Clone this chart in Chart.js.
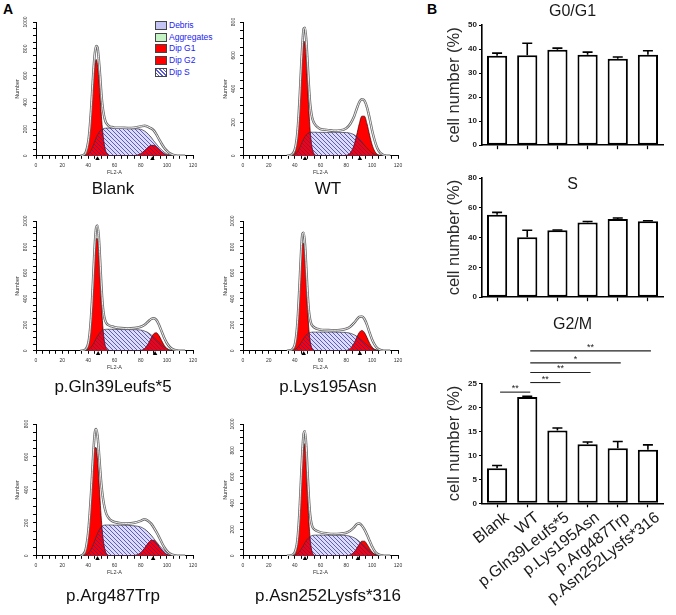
<!DOCTYPE html>
<html>
<head>
<meta charset="utf-8">
<title>Cell cycle distribution</title>
<script src="https://cdn.jsdelivr.net/npm/chart.js@4.4.1/dist/chart.umd.min.js"></script>
<style>
  body { margin: 0; width: 676px; height: 615px; position: relative; overflow: hidden; background: #fff; font-family: "Liberation Sans", Arial, sans-serif; }
  canvas { position: absolute; }
  .tag { position: absolute; font-weight: bold; font-size: 14px; }
  #legend { position: absolute; left: 155px; top: 20px; font-size: 8.5px; color: #2323f0; line-height: 11.7px; }
  #legend i { display: inline-block; width: 12px; height: 9px; border: 1px solid #444; margin-right: 2px; vertical-align: -2px; box-sizing: border-box; }
</style>
</head>
<body>
<div class="tag" style="left:3px;top:1px">A</div>
<div class="tag" style="left:427px;top:1px">B</div>
<div id="legend">
  <div><i style="background:#c4c4f4"></i>Debris</div>
  <div><i style="background:#c4f4c4"></i>Aggregates</div>
  <div><i style="background:#ff0000"></i>Dip G1</div>
  <div><i style="background:#ff0000"></i>Dip G2</div>
  <div><i style="background:repeating-linear-gradient(45deg,#fff 0 1.6px,#5b5bd6 1.6px 2.6px)"></i>Dip S</div>
</div>
<script>
// FL2-A channel positions the histogram values were read at
const fl2 = [34,36,38,40,41,42,43,44,45,46,47,48,49,50,51,52,53,54,56,58,60,65,70,75,80,83,86,88,90,92,94,96,98,100,102,104,106,108,110,114];

const blankTotal = [0,5,25,110,200,330,490,650,770,820,810,720,600,460,360,300,260,240,220,215,210,210,208,210,220,225,215,205,190,160,125,90,60,38,20,10,4,1,0,0];
const blankG1 = [0,3,20,97,179,296,437,577,681,720,681,577,437,296,179,97,47,20,3,0,0,0,0,0,0,0,0,0,0,0,0,0,0,0,0,0,0,0,0,0];
const blankG2 = [0,0,0,0,0,0,0,0,0,0,0,0,0,0,0,0,0,0,0,0,0,0,0,2,16,39,67,78,78,67,49,30,16,7,3,1,0,0,0,0];
const blankS = [0,0,5,15,25,40,60,85,110,135,155,172,185,195,200,205,206,207,207,206,205,204,203,202,198,185,160,138,112,88,64,44,27,14,6,2,0,0,0,0];
const blankPeaks = [47, 89];

const wtTotal = [0,2,8,35,70,130,230,370,530,670,760,765,690,560,420,310,250,215,185,170,160,155,150,152,165,190,235,280,320,338,330,290,225,150,90,45,20,8,2,0];
const wtG1 = [0,0,2,18,45,100,194,327,480,614,686,667,566,419,270,152,74,32,4,0,0,0,0,0,0,0,0,0,0,0,0,0,0,0,0,0,0,0,0,0];
const wtG2 = [0,0,0,0,0,0,0,0,0,0,0,0,0,0,0,0,0,0,0,0,0,0,0,0,3,16,65,124,191,237,237,191,124,65,27,9,3,1,0,0];
const wtS = [0,0,2,8,14,22,34,50,68,86,102,115,126,133,138,140,141,141,141,140,140,140,140,140,139,135,126,115,100,82,63,45,30,17,8,3,1,0,0,0];
const wtPeaks = [48, 90.5];

const glnTotal = [0,3,12,60,130,250,420,630,830,950,965,880,700,500,350,270,230,210,195,188,182,175,172,175,185,200,228,245,250,238,200,150,100,60,32,15,6,2,0,0];
const glnG1 = [0,0,4,39,94,197,356,554,745,864,864,745,554,356,197,94,39,14,1,0,0,0,0,0,0,0,0,0,0,0,0,0,0,0,0,0,0,0,0,0];
const glnG2 = [0,0,0,0,0,0,0,0,0,0,0,0,0,0,0,0,0,0,0,0,0,0,0,0,3,18,59,99,131,139,117,79,42,18,6,2,0,0,0,0];
const glnS = [0,0,3,10,17,27,40,57,76,95,113,128,142,152,159,163,165,166,166,166,165,164,163,163,160,152,138,123,105,85,64,45,29,17,8,3,1,0,0,0];
const glnPeaks = [47.5, 91];

const lysTotal = [0,2,10,45,100,200,360,560,770,900,910,820,640,450,310,240,205,190,175,168,163,160,158,160,170,185,215,240,262,265,245,200,140,85,45,20,8,2,0,0];
const lysG1 = [0,0,3,29,75,167,317,513,706,828,828,706,513,317,167,75,29,10,0,0,0,0,0,0,0,0,0,0,0,0,0,0,0,0,0,0,0,0,0,0];
const lysG2 = [0,0,0,0,0,0,0,0,0,0,0,0,0,0,0,0,0,0,0,0,0,0,0,0,3,18,59,102,141,157,141,102,59,28,11,3,1,0,0,0];
const lysS = [0,0,2,8,14,22,33,48,64,80,96,110,121,131,137,141,143,144,144,144,144,144,144,143,141,135,124,112,97,80,62,45,30,18,9,4,1,0,0,0];
const lysPeaks = [47, 90.5];

const argTotal = [0,8,40,150,250,370,510,650,750,770,730,640,530,430,360,310,275,250,225,212,205,198,196,200,212,222,210,195,172,145,115,82,52,30,15,7,3,1,0,0];
const argG1 = [0,4,29,124,216,337,470,587,656,656,587,470,337,216,124,64,29,12,1,0,0,0,0,0,0,0,0,0,0,0,0,0,0,0,0,0,0,0,0,0];
const argG2 = [0,0,0,0,0,0,0,0,0,0,0,0,0,0,0,0,0,0,0,0,0,0,0,2,19,47,80,94,94,80,58,36,19,9,3,1,0,0,0,0];
const argS = [0,1,5,15,25,38,55,75,96,116,135,152,166,177,183,186,187,187,187,187,186,186,185,182,175,162,142,125,105,85,65,47,31,19,10,4,1,0,0,0];
const argPeaks = [47, 89.5];

const asnTotal = [0,1,6,25,55,110,220,390,600,800,930,945,830,630,440,310,245,215,195,185,178,170,166,168,175,190,215,240,245,230,200,160,115,70,35,15,6,2,0,0];
const asnG1 = [0,0,0,8,27,75,173,334,543,743,853,824,669,457,262,126,51,17,1,0,0,0,0,0,0,0,0,0,0,0,0,0,0,0,0,0,0,0,0,0];
const asnG2 = [0,0,0,0,0,0,0,0,0,0,0,0,0,0,0,0,0,0,0,0,0,0,0,0,1,7,28,56,88,111,111,88,56,28,12,4,1,0,0,0];
const asnS = [0,0,1,5,9,15,24,36,50,66,83,100,115,128,139,147,152,155,157,157,157,157,156,156,154,148,137,125,110,92,73,54,37,23,12,5,2,0,0,0];
const asnPeaks = [48, 89];

// panel B
const groups = ['Blank', 'WT', 'p.Gln39Leufs*5', 'p.Lys195Asn', 'p.Arg487Trp', 'p.Asn252Lysfs*316'];
const g0g1Mean = [37.2, 37.4, 39.7, 37.6, 36.0, 37.6];
const g0g1Sd = [1.1, 5.0, 0.7, 1.1, 0.7, 1.7];
const sMean = [55.3, 40.2, 44.9, 50.2, 52.5, 50.9];
const sSd = [1.6, 4.7, 0.2, 0.6, 0.7, 0.4];
const g2mMean = [7.3, 22.2, 15.2, 12.3, 11.5, 11.2];
const g2mSd = [0.6, 0.15, 0.5, 0.5, 1.4, 1.0];
// [from group, to group, height (%), mark]
const g2mSig = [[0, 1, 23.2, '**'], [1, 2, 25.2, '**'], [1, 3, 27.3, '**'], [1, 4, 29.3, '*'], [1, 5, 31.8, '**']];

Chart.defaults.font.family = '"Liberation Sans", Arial, sans-serif';
Chart.defaults.color = '#222';
Chart.defaults.animation = false;
Chart.defaults.events = [];

function addCanvas(left, top, w, h) {
  const c = document.createElement('canvas');
  c.width = w;
  c.height = h;
  c.style.left = left + 'px';
  c.style.top = top + 'px';
  document.body.appendChild(c);
  return c;
}

// diagonal "\" stripes on a transparent tile
function hatch(line) {
  const n = 4;
  const c = document.createElement('canvas');
  c.width = c.height = n;
  const g = c.getContext('2d');
  g.strokeStyle = line;
  g.lineWidth = 1;
  g.beginPath();
  for (const o of [-n, 0, n]) {
    g.moveTo(o, 0);
    g.lineTo(o + n, n);
  }
  g.stroke();
  return g.createPattern(c, 'repeat');
}

const stripes = hatch('rgba(45,40,190,0.72)');

const hist = [
  { name: 'Blank', ymax: 1000, total: blankTotal, g1: blankG1, g2: blankG2, s: blankS, peaks: blankPeaks },
  { name: 'WT', ymax: 800, total: wtTotal, g1: wtG1, g2: wtG2, s: wtS, peaks: wtPeaks },
  { name: 'p.Gln39Leufs*5', ymax: 1000, total: glnTotal, g1: glnG1, g2: glnG2, s: glnS, peaks: glnPeaks },
  { name: 'p.Lys195Asn', ymax: 1000, total: lysTotal, g1: lysG1, g2: lysG2, s: lysS, peaks: lysPeaks },
  { name: 'p.Arg487Trp', ymax: 800, total: argTotal, g1: argG1, g2: argG2, s: argS, peaks: argPeaks },
  { name: 'p.Asn252Lysfs*316', ymax: 1000, total: asnTotal, g1: asnG1, g2: asnG2, s: asnS, peaks: asnPeaks },
];

const cols = [
  { left: 0, w: 226, yw: 36, rw: 33, numPad: 13.7 },
  { left: 205, w: 246, yw: 38, rw: 53, numPad: 16.7 },
];
const rows = [
  { top: 14, h: 188, tp: 3.8 },
  { top: 213, h: 187, tp: 6.8 },
  { top: 416, h: 193, tp: 10.8 },
];

hist.forEach((p, i) => {
  const col = cols[i % 2];
  const row = rows[Math.floor(i / 2)];
  const pts = arr => fl2.map((x, k) => ({ x, y: arr[k] }));
  const area = (arr, line, fill, order) => ({
    data: pts(arr), borderColor: line, borderWidth: 0.7, backgroundColor: fill, fill: 'origin', order
  });

  new Chart(addCanvas(col.left, row.top, col.w, row.h), {
    type: 'line',
    data: {
      datasets: [
        { data: pts(p.total), borderColor: '#fff', borderWidth: 0.9, order: 0 },
        { data: pts(p.total), borderColor: '#666', borderWidth: 2.5, order: 1 },
        {
          data: p.peaks.map(x => ({ x, y: -p.ymax * 0.022 })), showLine: false, pointRadius: 2.6,
          pointStyle: 'triangle', backgroundColor: '#000', borderColor: '#000', borderWidth: 0, clip: false, order: 0
        },
        area(p.s, '#333', stripes, 2),
        area(p.g1, '#300', '#ff0000', 3),
        area(p.g2, '#300', '#ff0000', 3),
        area(p.s, 'rgba(0,0,0,0)', '#dcdcf7', 4),
      ]
    },
    options: {
      responsive: false,
      layout: { padding: { top: 8 } },
      elements: { point: { radius: 0 }, line: { cubicInterpolationMode: 'monotone' } },
      plugins: {
        legend: { display: false },
        tooltip: { enabled: false },
        title: {
          display: true, text: p.name, position: 'bottom', color: '#111',
          font: { size: 17, weight: 'normal', lineHeight: 1.2 }, padding: { top: row.tp, bottom: 2 }
        }
      },
      scales: {
        x: {
          type: 'linear', min: 0, max: 120,
          border: { color: '#000', width: 1 },
          grid: { drawOnChartArea: false, tickLength: 3, tickColor: '#000' },
          ticks: {
            stepSize: 5, autoSkip: false, maxRotation: 0, font: { size: 5 }, color: '#333', padding: 4,
            callback: v => (v % 20 === 0 ? v : '')
          },
          title: { display: true, text: 'FL2-A', font: { size: 5.5 }, color: '#333', padding: 0 },
          afterFit: s => { s.height = 20; }
        },
        y: {
          min: 0, max: p.ymax,
          border: { color: '#000', width: 1 },
          grid: { drawOnChartArea: false, tickLength: 3, tickColor: '#000' },
          ticks: {
            stepSize: 50, autoSkip: false, minRotation: 90, maxRotation: 90, crossAlign: 'center',
            font: { size: 5 }, color: '#333', padding: 2,
            callback: v => (v % 200 === 0 ? v : '')
          },
          title: { display: true, text: 'Number', font: { size: 5.5 }, color: '#333', padding: { top: col.numPad, bottom: 0 } },
          afterFit: s => { s.width = col.yw; }
        },
        yPad: {
          position: 'right', display: true,
          grid: { display: false }, border: { display: false }, ticks: { display: false },
          afterFit: s => { s.width = col.rw; }
        }
      }
    }
  });
});

const errorBars = {
  id: 'errorBars',
  afterDatasetsDraw(chart, args, opts) {
    const { ctx } = chart;
    const y = chart.scales.y;
    const values = chart.data.datasets[0].data;
    ctx.save();
    ctx.strokeStyle = '#000';
    ctx.lineWidth = 1.6;
    chart.getDatasetMeta(0).data.forEach((bar, i) => {
      const top = y.getPixelForValue(values[i] + opts.sd[i]);
      ctx.beginPath();
      ctx.moveTo(bar.x, bar.y);
      ctx.lineTo(bar.x, top);
      ctx.moveTo(bar.x - 5, top);
      ctx.lineTo(bar.x + 5, top);
      ctx.stroke();
    });
    ctx.restore();
  }
};

const brackets = {
  id: 'brackets',
  afterDraw(chart) {
    const { ctx, scales: { x, y } } = chart;
    ctx.save();
    ctx.strokeStyle = '#222';
    ctx.fillStyle = '#222';
    ctx.lineWidth = 1.1;
    ctx.font = '9px "Liberation Sans", Arial, sans-serif';
    ctx.textAlign = 'center';
    ctx.textBaseline = 'alphabetic';
    g2mSig.forEach(([a, b, level, mark]) => {
      const x0 = x.getPixelForValue(a) + 3;
      const x1 = x.getPixelForValue(b) + 3;
      const yy = y.getPixelForValue(level);
      ctx.beginPath();
      ctx.moveTo(x0, yy);
      ctx.lineTo(x1, yy);
      ctx.stroke();
      ctx.fillText(mark, (x0 + x1) / 2, yy - 1);
    });
    ctx.restore();
  }
};

function barChart(left, top, w, h, cfg) {
  new Chart(addCanvas(left, top, w, h), {
    type: 'bar',
    data: {
      labels: groups,
      datasets: [{
        data: cfg.mean, backgroundColor: '#fff', borderColor: '#000', borderWidth: 2,
        borderSkipped: false, barPercentage: 0.67, categoryPercentage: 1
      }]
    },
    options: {
      responsive: false,
      layout: { padding: { right: cfg.padRight } },
      plugins: {
        legend: { display: false },
        tooltip: { enabled: false },
        title: {
          display: true, text: cfg.title, fullSize: false, color: '#1a1a1a',
          font: { size: 16, weight: 'normal', lineHeight: 1.2 }, padding: cfg.titlePad
        },
        errorBars: { sd: cfg.sd }
      },
      scales: {
        x: {
          grid: { offset: false, drawOnChartArea: false, tickLength: 4, tickColor: '#000', tickWidth: 1.2 },
          border: { color: '#000', width: 1.6 },
          ticks: cfg.labels
            ? { autoSkip: false, minRotation: 38, maxRotation: 38, labelOffset: 10, font: { size: 16 }, color: '#1a1a1a', padding: 1 }
            : { display: false },
          afterFit: s => { s.height = cfg.xh; }
        },
        y: {
          min: 0, max: cfg.max,
          ticks: { stepSize: cfg.step, font: { size: 8, weight: 'bold' }, color: '#222', padding: 2 },
          grid: { drawOnChartArea: false, tickLength: 3, tickColor: '#000', tickWidth: 1.2 },
          border: { color: '#000', width: 1.6 },
          title: {
            display: true, text: 'cell number (%)', font: { size: 16.5 }, color: '#2a2a2a',
            padding: { top: 5, bottom: 0 }
          },
          afterFit: s => { s.width = 42; }
        }
      }
    },
    plugins: cfg.sig ? [errorBars, brackets] : [errorBars]
  });
}

barChart(440, 0, 226, 152, {
  title: 'G0/G1', mean: g0g1Mean, sd: g0g1Sd, max: 50, step: 10, xh: 6, padRight: 3,
  titlePad: { top: 2.4, bottom: 3.4 }
});
barChart(440, 160, 226, 144, {
  title: 'S', mean: sMean, sd: sSd, max: 80, step: 20, xh: 6, padRight: 3,
  titlePad: { top: 15.4, bottom: -16.6 }
});
barChart(440, 310, 236, 305, {
  title: 'G2/M', mean: g2mMean, sd: g2mSd, max: 25, step: 5, xh: 111.7, labels: true, sig: true, padRight: 13,
  titlePad: { top: 5.4, bottom: 48.9 }
});
</script>
</body>
</html>
